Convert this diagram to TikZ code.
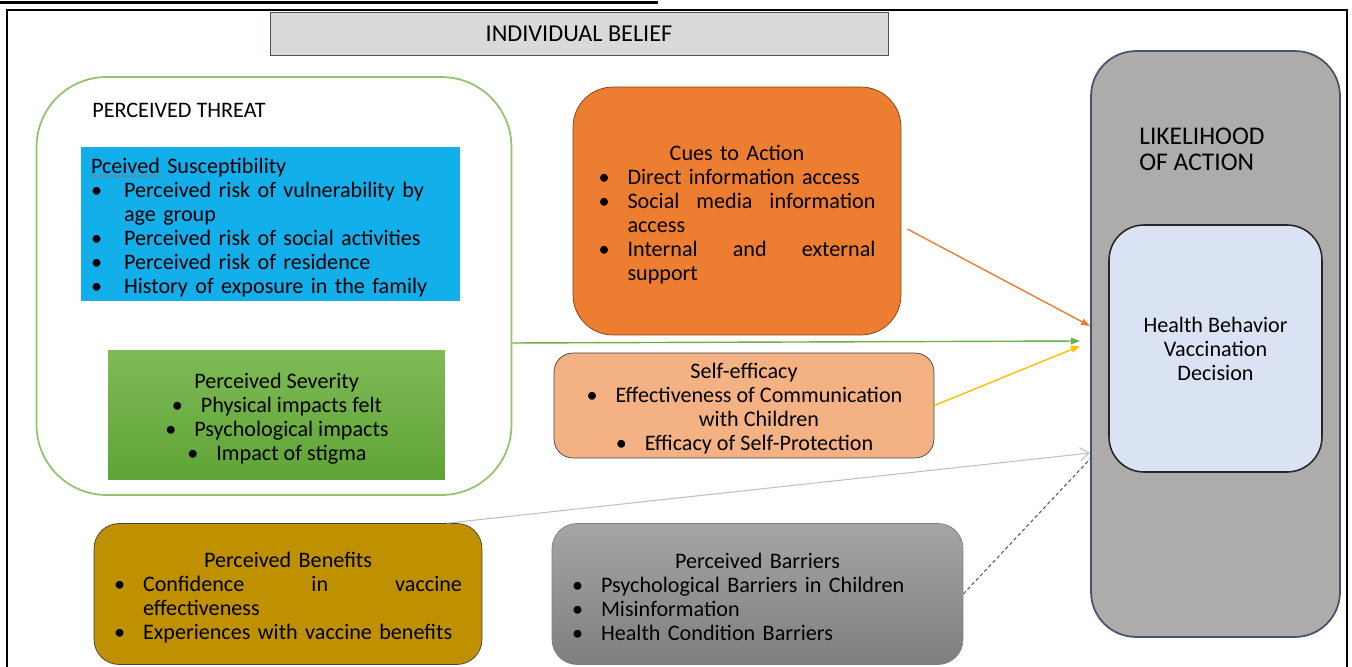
\documentclass[tikz,border=0pt]{standalone}
\usepackage{fontspec}
\setmainfont{Carlito}
\usetikzlibrary{arrows.meta,decorations.pathmorphing}
\definecolor{beliefgray}{HTML}{D9D9D9}
\definecolor{slateline}{HTML}{44546A}
\definecolor{threatline}{HTML}{92C46E}
\definecolor{skyblue}{HTML}{13AFEB}
\definecolor{sevtop}{HTML}{7EBB56}
\definecolor{sevbot}{HTML}{5FA336}
\definecolor{cuesorange}{HTML}{ED7D31}
\definecolor{cuesline}{HTML}{7F3F16}
\definecolor{selforange}{HTML}{F4B183}
\definecolor{likgray}{HTML}{AEABAB}
\definecolor{innerblue}{HTML}{DAE3F3}
\definecolor{bengold}{HTML}{BF9000}
\definecolor{bartop}{HTML}{A5A5A5}
\definecolor{barbot}{HTML}{7F7F7F}
\definecolor{arrgreen}{HTML}{70AD47}
\definecolor{arryellow}{HTML}{FFC000}
\definecolor{arrgray}{HTML}{BFBFBF}
\newcommand{\boxfont}{\fontsize{12.6}{13.66}\selectfont}
\newcommand{\headfont}{\fontsize{14.5}{14.8}\selectfont}
\newcommand{\tp}{\rule{0pt}{1em}}
\newcommand{\bul}{\makebox[0.58cm][l]{\textbullet}}
\newcommand{\hang}{\hspace*{0.58cm}}
\newcommand{\cbul}[1]{\hspace*{0.6cm}\llap{\makebox[0.58cm][l]{\textbullet}}#1}
\tikzset{
  box/.style={draw, rectangle, inner sep=0pt, font=\boxfont},
  conn/.style={line width=0.8pt}
}
\begin{document}
\begin{tikzpicture}[x=0.02cm,y=-0.02cm]
\useasboundingbox (0,0) rectangle (1352,666);
% frame
\fill (0,1) rectangle (658,4);
\draw[line width=1.1pt] (7,700) -- (7,10) -- (1347,10) -- (1347,700);
\node[box, draw=slateline, fill=beliefgray, minimum width=12.36cm, minimum height=0.86cm, font=\fontsize{13.8}{15}\selectfont] (belief) at (579,33.5) {INDIVIDUAL BELIEF};
% perceived threat
\node[box, draw=threatline, line width=1pt, rounded corners=1.4cm, minimum width=9.5cm, minimum height=8.36cm] (threat) at (274,286) {};
\node[anchor=west, inner sep=0pt, font=\boxfont] (threatT) at (92,110) {PERCEIVED THREAT};
\node[box, draw=none, fill=skyblue, minimum width=7.58cm, minimum height=3.08cm, text width=7.18cm, align=left] (suscept) at (270.5,224) {\tp Pceived Susceptibility\\
  \bul\hspace*{0.08cm}Perceived risk of vulnerability by\\
  \hang\hspace*{0.08cm}age group\\
  \bul\hspace*{0.08cm}Perceived risk of social activities\\
  \bul\hspace*{0.08cm}Perceived risk of residence\\
  \bul\hspace*{0.08cm}History of exposure in the family};
\draw[gray, line width=0.4pt, decorate, decoration={snake, amplitude=0.6pt, segment length=2.2pt}] (91,176) -- (163,176);
\node[box, draw=none, top color=sevtop, bottom color=sevbot, minimum width=6.74cm, minimum height=2.6cm, align=center] (severity) at (276.5,415) {\tp Perceived Severity\\
  \cbul{Physical impacts felt}\\
  \cbul{Psychological impacts}\\
  \cbul{Impact of stigma}};
% cues and self-efficacy
\node[box, draw=cuesline, fill=cuesorange, rounded corners=0.8cm, minimum width=6.56cm, minimum height=4.96cm, text width=5.54cm, align=left] (cues) at (737,211) {\tp\makebox[5.54cm]{Cues to Action}\\
  \bul Direct information access\\
  \bul\makebox[4.96cm][l]{Social\hfill media\hfill information}\\
  \hang access\\
  \bul\makebox[4.96cm][l]{Internal\hfill and\hfill external}\\
  \hang support};
\node[box, draw=black!75, fill=selforange, rounded corners=0.38cm, minimum width=7.6cm, minimum height=2.1cm, align=center] (selfeff) at (744,405.5) {\tp Self-efficacy\\
  \cbul{Effectiveness of Communication}\\
  \hspace*{0.6cm}with Children\\
  \cbul{Efficacy of Self-Protection}};
% likelihood of action
\node[box, draw=slateline, fill=likgray, line width=1pt, rounded corners=0.9cm, minimum width=4.98cm, minimum height=11.72cm] (lik) at (1215.5,344) {};
\node[anchor=west, inner sep=0pt, font=\headfont, align=left] (likT) at (1139,149) {LIKELIHOOD\\OF ACTION};
\node[box, draw=black!85, fill=innerblue, line width=0.9pt, rounded corners=0.7cm, minimum width=4.26cm, minimum height=4.94cm, align=center] (decision) at (1215.5,348.5) {Health Behavior\\Vaccination\\Decision};
% benefits and barriers
\node[box, draw=black!75, fill=bengold, rounded corners=0.5cm, minimum width=7.76cm, minimum height=2.82cm, text width=6.96cm, align=left] (benefits) at (288,594) {\tp\makebox[6.96cm]{Perceived Benefits}\\
  \bul\makebox[6.38cm][l]{Confidence\hfill in\hfill vaccine}\\
  \hang effectiveness\\
  \bul Experiences with vaccine benefits};
\node[box, draw=barbot, top color=bartop, bottom color=barbot, rounded corners=0.5cm, minimum width=8.22cm, minimum height=2.82cm, text width=7.42cm, align=left] (barriers) at (757.5,594) {\tp\makebox[7.42cm]{Perceived Barriers}\\
  \bul Psychological Barriers in Children\\
  \bul Misinformation\\
  \bul Health Condition Barriers};
% arrows into likelihood
\coordinate (inCue) at (1090,326);
\coordinate (inThreat) at (1080,341);
\coordinate (inSelf) at (1080,346);
\coordinate (inBen) at (1090,453);
\coordinate (inBar) at (1090,459);
\draw[conn, cuesorange, -{Triangle[length=0.18cm,width=0.13cm]}] ([shift={(0.12cm,-0.36cm)}]cues.east) -- (inCue);
\draw[conn, arrgreen, -{Triangle[length=0.18cm,width=0.13cm]}] ([yshift=-1.14cm]threat.east) -- (inThreat);
\draw[conn, arryellow, -{Triangle[length=0.18cm,width=0.13cm]}] (selfeff.east) -- (inSelf);
\draw[conn, arrgray, line width=0.6pt, -{Straight Barb[length=0.18cm,width=0.26cm]}] ([xshift=3.18cm]benefits.north) -- (inBen);
\draw[conn, black!65, line width=0.6pt, dashed, dash pattern=on 2pt off 1.5pt] (barriers.east) -- (inBar);
\end{tikzpicture}
\end{document}
